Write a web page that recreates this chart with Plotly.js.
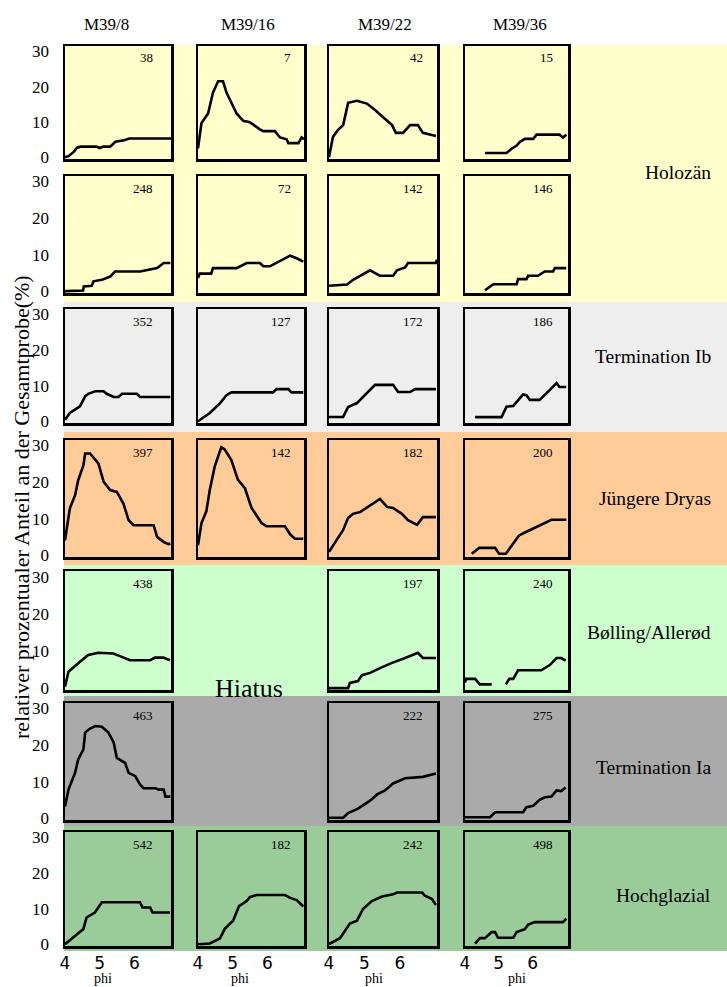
<!DOCTYPE html>
<html>
<head>
<meta charset="utf-8">
<script src="https://cdn.plot.ly/plotly-3.0.1.min.js"></script>
<style>html,body{margin:0;padding:0;background:#fff}#chart{width:727px;height:987px}</style>
</head>
<body>
<div id="chart"></div>
<script>
// ---- categories ----
const cores = ['M39/8', 'M39/16', 'M39/22', 'M39/36'];
const periods = ['Holozän', 'Termination Ib', 'Jüngere Dryas', 'Bølling/Allerød', 'Termination Ia', 'Hochglazial'];
const periodColors = ['#FFFFCC', '#EEEEEE', '#FFCC99', '#CCFFCC', '#AAAAAA', '#99CC99'];
const sampleDepths = [
  [38, 7, 42, 15],
  [248, 72, 142, 146],
  [352, 127, 172, 186],
  [397, 142, 182, 200],
  [438, null, 197, 240],
  [463, null, 222, 275],
  [542, 182, 242, 498]
];
const yTicks = [0, 10, 20, 30];
const xTicks = [4, 5, 6];

// ---- series (phi, percent) ----
const r1c1_phi = [4,4.1,4.25,4.35,4.45,4.9,5.0,5.1,5.3,5.45,5.7,5.85,7.05];
const r1c1_pct = [0,0.3,1.5,2.7,3.0,3.0,2.6,3.0,3.0,4.4,4.8,5.3,5.3];
const r1c2_phi = [4,4.02,4.1,4.29,4.43,4.58,4.72,4.82,4.91,5.11,5.3,5.49,5.78,5.88,6.21,6.36,6.55,6.6,6.89,6.98,7.05];
const r1c2_pct = [2.5,3.8,9.7,12.4,18.3,21.5,21.5,18.3,16.5,12.4,10.3,9.95,7.9,7.4,7.4,5.6,5.1,4.0,4.0,5.6,5.1];
const r1c3_phi = [4,4.11,4.25,4.4,4.54,4.79,5.07,5.3,5.52,5.78,5.89,6.09,6.29,6.51,6.65,7.02];
const r1c3_pct = [0,5.7,7.7,9.1,15.4,16.0,15.2,13.4,11.4,9.1,6.9,6.9,9.1,9.1,6.9,6.0];
const r1c4_phi = [4.59,5.23,5.38,5.53,5.62,5.77,6.02,6.12,6.8,6.9,7.0];
const r1c4_pct = [1.2,1.2,2.4,3.3,4.3,5.2,5.2,6.4,6.4,5.6,6.4];

const r2c1_phi = [4,4.52,4.54,4.77,4.82,5.06,5.3,5.44,6.16,6.45,6.65,6.84,7.03];
const r2c1_pct = [0,0.2,1.3,1.5,2.7,3.1,4.0,5.4,5.4,5.9,6.3,7.7,7.7];
const r2c2_phi = [4,4.05,4.38,4.43,5.11,5.4,5.78,5.88,6.07,6.26,6.45,6.65,6.84,7.03];
const r2c2_pct = [3.6,4.8,4.8,6.3,6.3,7.7,7.7,6.8,6.8,7.7,8.6,9.7,9.0,8.1];
const r2c3_phi = [4,4.51,4.68,4.88,5.16,5.44,5.81,5.92,6.15,6.23,7.02,7.05];
const r2c3_pct = [1.5,1.8,3.1,4.2,5.7,4.2,4.2,5.7,6.5,7.7,7.7,8.6];
const r2c4_phi = [4.59,4.84,5.53,5.57,5.82,5.87,6.16,6.36,6.61,6.66,7.0];
const r2c4_pct = [0.25,1.9,1.9,3.3,3.3,4.2,4.2,5.4,5.4,6.3,6.3];

const r3c1_phi = [4,4.14,4.43,4.58,4.67,4.87,5.11,5.2,5.4,5.54,5.64,6.07,6.16,7.03];
const r3c1_pct = [0.4,2.3,4.2,7.0,7.7,8.4,8.4,7.7,6.8,6.8,7.7,7.7,6.8,6.8];
const r3c2_phi = [4,4.34,4.63,4.82,4.96,6.16,6.26,6.6,6.69,7.03];
const r3c2_pct = [0,2.3,5.0,7.3,8.1,8.1,9.0,9.0,8.1,8.1];
const r3c3_phi = [4,4.4,4.54,4.79,4.96,5.1,5.3,5.81,5.95,6.29,6.43,7.02];
const r3c3_pct = [1.2,1.2,4.0,5.1,6.8,8.2,10.2,10.2,8.2,8.2,9.0,9.0];
const r3c4_phi = [4.3,5.08,5.23,5.43,5.72,5.82,5.92,6.21,6.46,6.71,6.8,7.0];
const r3c4_pct = [1.15,1.15,4.1,4.3,7.5,7.3,6.0,6.0,8.3,10.7,9.6,9.6];

const r4c1_phi = [4,4.14,4.29,4.38,4.53,4.58,4.72,4.96,5.11,5.3,5.49,5.68,5.83,5.97,6.55,6.65,6.84,6.98,7.03];
const r4c1_pct = [4.1,12.8,16.4,20.5,24.6,27.8,27.8,25.1,20.1,17.8,17.3,14.1,9.6,8.2,8.2,5.0,3.6,3.0,3.2];
const r4c2_phi = [4,4.1,4.24,4.34,4.48,4.67,4.77,4.96,5.15,5.35,5.54,5.83,5.97,6.5,6.65,6.79,7.03];
const r4c2_pct = [2.7,8.8,12.0,17.9,24.2,29.5,28.9,26.0,20.6,18.3,12.9,8.8,7.9,7.9,5.7,4.5,4.5];
const r4c3_phi = [4,4.4,4.54,4.68,4.88,5.16,5.44,5.64,5.81,6.06,6.23,6.49,6.65,7.02];
const r4c3_pct = [0.9,6.9,10.2,11.3,11.8,13.7,15.4,13.2,12.9,11.3,9.6,8.3,10.4,10.4];
const r4c4_phi = [4.2,4.42,4.89,5.01,5.21,5.38,5.6,5.82,6.07,6.36,6.56,7.0];
const r4c4_pct = [0.4,2.0,2.0,0.4,0.4,2.7,5.4,6.4,7.5,8.6,9.7,9.7];

const r5c1_phi = [4,4.1,4.43,4.67,4.96,5.39,5.58,5.87,6.45,6.59,6.83,7.02];
const r5c1_pct = [0.4,4.4,7.1,8.9,9.5,9.3,8.6,7.5,7.5,8.2,8.2,7.5];
const r5c3_phi = [4,4.54,4.59,4.82,4.93,5.16,5.44,5.78,6.15,6.51,6.65,7.02];
const r5c3_pct = [0,0,1.4,1.9,3.5,4.1,5.4,6.8,8.1,9.5,8.1,8.1];
const r5c4_phi = [4.0,4.03,4.3,4.44,4.79,null,5.21,5.31,5.43,5.57,6.26,6.51,6.71,6.85,6.98];
const r5c4_pct = [1.5,2.5,2.5,1.0,1.0,null,1.0,2.5,2.5,4.8,4.8,6.2,8.1,8.1,7.4];

const r6c1_phi = [4,4.1,4.29,4.38,4.53,4.58,4.72,4.87,5.06,5.25,5.4,5.49,5.73,5.83,6.02,6.16,6.26,6.6,6.69,6.84,6.89,7.03];
const r6c1_pct = [3.2,7.8,12.4,16.1,18.8,23.4,24.5,25.2,25.0,23.4,20.7,16.5,15.1,12.4,11.5,9.2,8.2,8.2,7.8,7.8,5.9,5.9];
const r6c3_phi = [4,4.4,4.54,4.82,4.96,5.16,5.36,5.58,5.81,6.15,6.65,7.02];
const r6c3_pct = [0.1,0.1,1.4,2.6,3.5,4.8,6.5,7.6,9.5,10.9,11.3,12.2];
const r6c4_phi = [4,4.74,4.89,5.72,5.82,6.02,6.21,6.36,6.56,6.71,6.85,6.98];
const r6c4_pct = [0.24,0.24,1.6,1.6,3.0,3.4,5.0,5.7,5.9,7.6,7.4,8.4];

const r7c1_phi = [4,4.53,4.62,4.86,5.06,6.16,6.23,6.45,6.52,7.02];
const r7c1_pct = [0,4.3,7.5,8.9,11.8,11.8,10.3,10.3,8.9,8.9];
const r7c2_phi = [4,4.34,4.63,4.77,5.01,5.18,5.4,5.49,5.68,6.5,6.65,6.84,7.03];
const r7c2_pct = [0,0.2,1.6,4.3,6.6,10.7,12.1,13.2,13.8,13.8,13.0,12.4,10.6];
const r7c3_phi = [4,4.31,4.59,4.79,4.96,5.21,5.5,5.81,5.92,6.63,6.71,6.91,7.02];
const r7c3_pct = [0.05,1.7,5.8,6.6,9.9,12.1,13.4,14.0,14.5,14.5,13.6,12.7,11.0];
const r7c4_phi = [4.3,4.44,4.59,4.79,4.89,4.98,5.43,5.53,5.77,5.87,6.07,6.9,7.0];
const r7c4_pct = [0.15,1.7,1.7,3.4,3.4,1.8,1.8,3.4,4.2,5.5,6.2,6.2,7.2];

const series = [
  [[r1c1_phi,r1c1_pct],[r1c2_phi,r1c2_pct],[r1c3_phi,r1c3_pct],[r1c4_phi,r1c4_pct]],
  [[r2c1_phi,r2c1_pct],[r2c2_phi,r2c2_pct],[r2c3_phi,r2c3_pct],[r2c4_phi,r2c4_pct]],
  [[r3c1_phi,r3c1_pct],[r3c2_phi,r3c2_pct],[r3c3_phi,r3c3_pct],[r3c4_phi,r3c4_pct]],
  [[r4c1_phi,r4c1_pct],[r4c2_phi,r4c2_pct],[r4c3_phi,r4c3_pct],[r4c4_phi,r4c4_pct]],
  [[r5c1_phi,r5c1_pct],null,[r5c3_phi,r5c3_pct],[r5c4_phi,r5c4_pct]],
  [[r6c1_phi,r6c1_pct],null,[r6c3_phi,r6c3_pct],[r6c4_phi,r6c4_pct]],
  [[r7c1_phi,r7c1_pct],[r7c2_phi,r7c2_pct],[r7c3_phi,r7c3_pct],[r7c4_phi,r7c4_pct]]
];

// ---- layout geometry (pixels) ----
const W = 727, H = 987;
const colX = [[65,171],[198,304],[329,437],[465,568]];
const rowY = [[46,159],[176,293],[309,423],[440,557],[571,690],[703,820],[832,946]];
const bandY = [[45,302],[302,432],[432,565],[565,696],[696,826],[826,951]];
const periodLabelY = [172, 357, 498, 632, 767, 895];
const coreTitleX = [107, 248, 385, 520];
const phiLabelX = [103, 240, 374, 517];
const numOffset = [16, 11, 12, 13];

const SERIF = 'Liberation Serif, Times New Roman, serif';
const px = v => v / W;
const py = v => 1 - v / H;

const traces = [];
const layout = {
  width: W, height: H,
  margin: {l: 0, r: 0, t: 0, b: 0},
  paper_bgcolor: '#ffffff',
  plot_bgcolor: 'rgba(0,0,0,0)',
  showlegend: false,
  shapes: [],
  annotations: []
};

bandY.forEach((b, i) => {
  layout.shapes.push({type: 'rect', xref: 'paper', yref: 'paper', layer: 'below',
    x0: px(64), x1: 1, y0: py(b[1]), y1: py(b[0]),
    fillcolor: periodColors[i], line: {width: 0}});
  layout.annotations.push({xref: 'paper', yref: 'paper', x: px(713), y: py(periodLabelY[i]),
    xanchor: 'right', yanchor: 'middle', text: periods[i], showarrow: false,
    font: {family: SERIF, size: 19.5, color: '#000'}});
});

let k = 0;
for (let r = 0; r < 7; r++) {
  for (let c = 0; c < 4; c++) {
    const s = series[r][c];
    if (!s) continue;
    k++;
    const xa = 'xaxis' + (k === 1 ? '' : k), ya = 'yaxis' + (k === 1 ? '' : k);
    const xr = 'x' + (k === 1 ? '' : k), yr = 'y' + (k === 1 ? '' : k);
    traces.push({x: s[0], y: s[1], xaxis: xr, yaxis: yr, type: 'scatter', mode: 'lines',
      line: {color: '#000', width: 2.6}, connectgaps: false, hoverinfo: 'skip'});
    const bottom = r === 6;
    layout[xa] = {domain: [px(colX[c][0]), px(colX[c][1])], anchor: yr, range: [4, 7.05],
      showgrid: false, zeroline: false, showline: true, mirror: true, linecolor: '#000', linewidth: 2.5,
      ticks: '', ticklen: 0, tickvals: xTicks, showticklabels: bottom, ticklabelstandoff: 0,
      tickfont: {family: 'DejaVu Sans, sans-serif', size: 17, color: '#000'}, fixedrange: true};
    layout[ya] = {domain: [py(rowY[r][1]), py(rowY[r][0])], anchor: xr, range: [-0.5, 31.5],
      showgrid: false, zeroline: false, showline: true, mirror: true, linecolor: '#000', linewidth: 2.5,
      ticks: '', tickvals: yTicks, showticklabels: c === 0, ticklabelstandoff: 10,
      tickfont: {family: SERIF, size: 17, color: '#000'}, fixedrange: true};
    layout.annotations.push({xref: 'paper', yref: 'paper', x: px(colX[c][1] - numOffset[c]), y: py(rowY[r][0] + 12),
      xanchor: 'right', yanchor: 'middle', text: String(sampleDepths[r][c]), showarrow: false,
      font: {family: SERIF, size: 13, color: '#000'}});
  }
}

cores.forEach((name, c) => {
  layout.annotations.push({xref: 'paper', yref: 'paper', x: px(coreTitleX[c]), y: py(25),
    xanchor: 'center', yanchor: 'middle', text: name, showarrow: false,
    font: {family: SERIF, size: 17, color: '#000'}});
  layout.annotations.push({xref: 'paper', yref: 'paper', x: px(phiLabelX[c]), y: 0,
    xanchor: 'center', yanchor: 'bottom', text: 'phi', showarrow: false, borderpad: 0,
    font: {family: SERIF, size: 14, color: '#000'}});
});

layout.annotations.push({xref: 'paper', yref: 'paper', x: px(249), y: py(688),
  xanchor: 'center', yanchor: 'middle', text: 'Hiatus', showarrow: false,
  font: {family: SERIF, size: 26, color: '#000'}});

layout.annotations.push({xref: 'paper', yref: 'paper', x: px(21), y: py(507),
  xanchor: 'center', yanchor: 'middle', textangle: -90,
  text: 'relativer prozentualer Anteil an der Gesamtprobe(%)', showarrow: false,
  font: {family: SERIF, size: 22, color: '#000'}});

Plotly.newPlot('chart', traces, layout, {displayModeBar: false, staticPlot: true});
</script>
</body>
</html>
